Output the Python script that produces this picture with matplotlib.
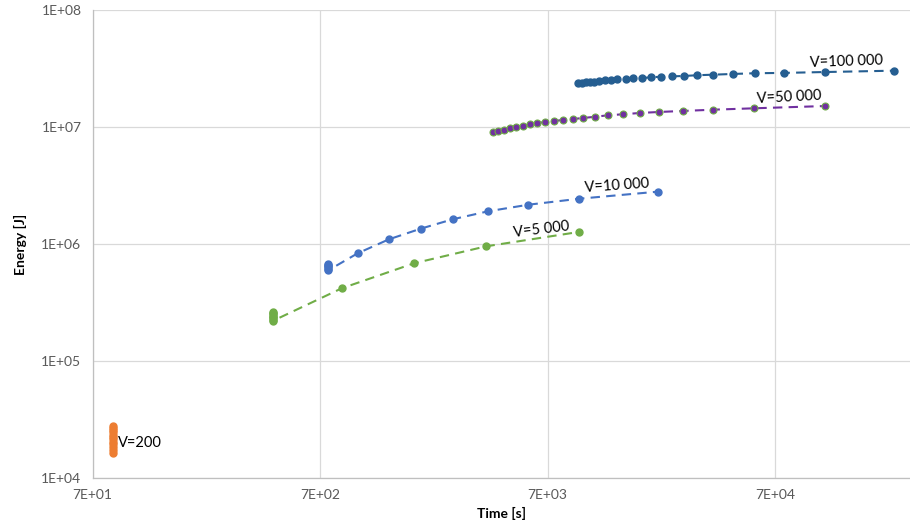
import matplotlib
matplotlib.use("Agg")
import matplotlib.pyplot as plt
from matplotlib.ticker import FixedLocator, FuncFormatter, NullLocator

plt.rcParams['font.family'] = ['Lato', 'DejaVu Sans']

# ---- data ----
t_200 = [86, 86, 86, 86, 86, 86, 86, 86, 86, 86, 86, 86]
e_200 = [2.78e4, 2.68e4, 2.57e4, 2.46e4, 2.35e4, 2.25e4, 2.15e4, 2.05e4,
         1.95e4, 1.85e4, 1.72e4, 1.62e4]

t_5000 = [436, 436, 436, 436, 436, 436, 436, 436, 872, 1812, 3757, 9600]
e_5000 = [2.62e5, 2.56e5, 2.50e5, 2.44e5, 2.38e5, 2.32e5, 2.26e5, 2.21e5,
          4.18e5, 6.84e5, 9.55e5, 1.267e6]

t_10000 = [761, 761, 761, 761, 761, 761, 1025, 1407, 1940, 2680, 3834, 5770,
           9660, 21340]
e_10000 = [6.75e5, 6.6e5, 6.45e5, 6.3e5, 6.1e5, 5.95e5, 8.33e5, 1.097e6,
           1.352e6, 1.626e6, 1.903e6, 2.167e6, 2.438e6, 2.80e6]

t_50000 = [4045, 4255, 4508, 4790, 5090, 5450, 5865, 6315, 6845, 7475, 8165,
           9035, 10050, 11350, 12910, 15070, 17850, 21630, 27490, 37480,
           56750, 116100]
e_50000 = [9.01e6, 9.24e6, 9.48e6, 9.75e6, 1.0e7, 1.026e7, 1.055e7, 1.081e7,
           1.104e7, 1.125e7, 1.148e7, 1.170e7, 1.194e7, 1.224e7, 1.259e7,
           1.285e7, 1.318e7, 1.344e7, 1.371e7, 1.406e7, 1.445e7, 1.511e7]

t_100000 = [9506, 9890, 10330, 10760, 11240, 11830, 12530, 13270, 14190,
            15450, 16680, 18210, 19950, 22080, 24660, 27850, 31850, 37480,
            45600, 57100, 76700, 116000, 234000]
e_100000 = [2.366e7, 2.39e7, 2.41e7, 2.425e7, 2.44e7, 2.47e7, 2.51e7, 2.52e7,
            2.56e7, 2.57e7, 2.61e7, 2.62e7, 2.66e7, 2.69e7, 2.71e7, 2.73e7,
            2.77e7, 2.80e7, 2.84e7, 2.88e7, 2.90e7, 2.95e7, 3.03e7]

x_ticks = [70, 700, 7000, 70000]
y_ticks = [1e4, 1e5, 1e6, 1e7, 1e8]

W, H = 910, 527
fig = plt.figure(figsize=(W / 100, H / 100), dpi=100)
ax = fig.add_axes([92.5 / W, (H - 478) / H, (910 - 92.5) / W, (478 - 10) / H])

ax.set_xscale('log')
ax.set_yscale('log')
ax.set_xlim(70, 70 * 10 ** ((910 - 92.5) / 227.5))
ax.set_ylim(1e4, 1e8)

ms = 5
dash = (0, (4.5, 3))
ax.plot(t_200, e_200, color='#ED7D31', marker='o', ms=ms, lw=1.5,
        ls=dash, zorder=3)
ax.plot(t_5000, e_5000, color='#70AD47', marker='o', ms=ms, lw=1.5,
        ls=dash, zorder=3)
ax.plot(t_10000, e_10000, color='#4472C4', marker='o', ms=ms, lw=1.5,
        ls=dash, zorder=3)
ax.plot(t_50000, e_50000, color='#7030A0', marker='o', ms=ms, lw=1.5,
        mfc='#7030A0', mec='#70AD47', mew=0.8, ls=dash, zorder=3)
ax.plot(t_100000, e_100000, color='#255E91', marker='o', ms=ms, lw=1.5,
        ls=dash, zorder=3)

lab_kw = dict(textcoords='offset pixels', fontsize=10.5, color='#000000',
              va='center', ha='center')
ax.annotate('V=100 000', xy=(t_100000[-2], e_100000[-2]), xytext=(21, 10),
            rotation=2, **lab_kw)
ax.annotate('V=50 000', xy=(t_50000[-1], e_50000[-1]), xytext=(-36, 9),
            rotation=3, **lab_kw)
ax.annotate('V=10 000', xy=(t_10000[-2], e_10000[-2]), xytext=(38, 13),
            rotation=4, **lab_kw)
ax.annotate('V=5 000', xy=(t_5000[-1], e_5000[-1]), xytext=(-37, 2),
            rotation=7, **lab_kw)
ax.annotate('V=200', xy=(t_200[0], 2.0e4), xytext=(5, 0),
            textcoords='offset pixels', fontsize=10.5, color='#000000',
            va='center', ha='left')

ax.xaxis.set_major_locator(FixedLocator(x_ticks))
ax.yaxis.set_major_locator(FixedLocator(y_ticks))
ax.xaxis.set_minor_locator(NullLocator())
ax.yaxis.set_minor_locator(NullLocator())

def sci(v, pos):
    return '%.0E' % v

ax.xaxis.set_major_formatter(FuncFormatter(sci))
ax.yaxis.set_major_formatter(FuncFormatter(sci))
ax.tick_params(axis='both', length=0, labelsize=10, colors='#595959', pad=8)

ax.grid(True, color='#D9D9D9', lw=0.9)
ax.set_axisbelow(True)
for s in ['top', 'right']:
    ax.spines[s].set_visible(False)
for s in ['left', 'bottom']:
    ax.spines[s].set_color('#BFBFBF')
    ax.spines[s].set_linewidth(0.9)

ax.set_xlabel('Time [s]', fontsize=10, fontweight='bold', color='#000000',
              labelpad=4)
ax.set_ylabel('Energy [J]', fontsize=10, fontweight='bold', color='#000000',
              labelpad=10)

fig.savefig('out.png', dpi=100)
